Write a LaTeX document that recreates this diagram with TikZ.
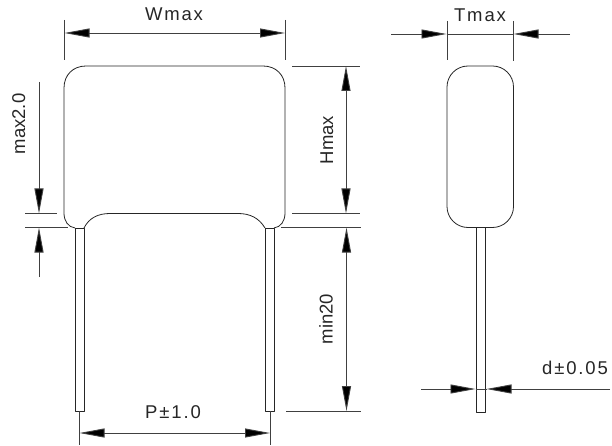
\documentclass[tikz,border=0pt]{standalone}
\usepackage{fontspec}
\setmainfont{Liberation Sans}
\newfontfamily\widesans[LetterSpace=10]{Liberation Sans}
\usetikzlibrary{arrows.meta}
\tikzset{
 x=1pt,y=-1pt,
 outline/.style={draw=black!85,line width=0.8pt,line join=round},
 extline/.style={draw=black!75,line width=0.8pt},
 dimline/.style={draw=black!75,line width=0.9pt},
 tipend/.style={-{Triangle[length=25pt,width=9pt,fill=black]}},
 dimlabel/.style={font=\widesans\fontsize{18.5pt}{20pt}\selectfont,text=black!85,inner sep=0pt},
 sidelabel/.style={font=\fontsize{18.5pt}{20pt}\selectfont,text=black!85,inner sep=0pt,rotate=90,anchor=base},
}
\begin{document}
\begin{tikzpicture}
\useasboundingbox (0,0) rectangle (612,446);
% front body
\draw[outline] (84,228) .. controls (89,218) and (98,213.5) .. (110,213.5) -- (238,213.5)
  .. controls (250,213.5) and (259,218) .. (265,228);
\draw[outline] (274,228) .. controls (281,227) and (285,221) .. (285,213) -- (285,88)
  .. controls (285,75) and (276,66) .. (263,66) -- (86,66)
  .. controls (73,66) and (64,75) .. (64,88) -- (64,213)
  .. controls (64,221) and (68,227) .. (75,228);
\draw[outline] (75,228) rectangle (84,411);
\draw[outline] (265,228) rectangle (274,411);
% side body
\draw[outline,rounded corners=21pt] (447,66) rectangle (513.5,227.5);
\draw[outline] (476.5,227.5) rectangle (485.5,412);
% W
\coordinate (wl0) at (64,20); \coordinate (wl1) at (64,60);
\coordinate (wr0) at (285,20); \coordinate (wr1) at (285,60);
\coordinate (wa) at (64.5,33); \coordinate (wb) at (285,33);
\draw[extline] (wl0) -- (wl1);
\draw[extline] (wr0) -- (wr1);
\draw[dimline,tipend] (174,33) -- (wa);
\draw[dimline,tipend] (174,33) -- (wb);
\node[dimlabel] (wlabel) at (174,14.5) {Wmax};
% T
\coordinate (tl0) at (447,21); \coordinate (tl1) at (447,60);
\coordinate (tr0) at (513,21); \coordinate (tr1) at (513,61);
\coordinate (tla) at (391,34); \coordinate (tlb) at (446.5,34);
\coordinate (tra) at (570,34); \coordinate (trb) at (513.5,34);
\draw[extline] (tl0) -- (tl1);
\draw[extline] (tr0) -- (tr1);
\draw[dimline,tipend] (tla) -- (tlb);
\draw[dimline,tipend] (tra) -- (trb);
\draw[dimline] (tlb) -- (trb);
\node[dimlabel] (tlabel) at (480,15) {Tmax};
% H
\coordinate (h0) at (292,66); \coordinate (h1) at (360,66);
\coordinate (h2) at (292,213.5); \coordinate (h3) at (360,213.5);
\coordinate (h4) at (281,227.5); \coordinate (h5) at (361,227.5);
\coordinate (h6) at (286,411); \coordinate (h7) at (361,411);
\draw[extline] (h0) -- (h1);
\draw[extline] (h2) -- (h3);
\draw[extline] (h4) -- (h5);
\draw[extline] (h6) -- (h7);
\draw[dimline,tipend] (346,140) -- (346,66);
\draw[dimline,tipend] (346,140) -- (346,213.5);
\draw[dimline,tipend] (346.5,320) -- (346.5,227.5);
\draw[dimline,tipend] (346.5,320) -- (346.5,411);
\node[sidelabel] (hlabel) at (333,140) {Hmax};
\node[sidelabel] (mlabel) at (332.5,319) {min20};
% max2.0
\coordinate (m0) at (25,213.5); \coordinate (m1) at (57,213.5);
\coordinate (m2) at (25,227.5); \coordinate (m3) at (68,227.5);
\draw[extline] (m0) -- (m1);
\draw[extline] (m2) -- (m3);
\draw[dimline,tipend] (39,82) -- (39,213.5);
\draw[dimline,tipend] (39,277) -- (39,227.5);
\node[sidelabel] (maxlabel) at (25,124) {max2.0};
% P
\coordinate (p0) at (79.5,411); \coordinate (p1) at (79.5,445);
\coordinate (p2) at (270,411); \coordinate (p3) at (270,445);
\draw[extline] (p0) -- (p1);
\draw[extline] (p2) -- (p3);
\draw[dimline,tipend] (175,433) -- (79.5,433);
\draw[dimline,tipend] (175,433) -- (270,433);
\node[dimlabel] (plabel) at (173,412.5) {P±1.0};
% d
\draw[dimline,tipend] (421,389) -- (475.5,389);
\draw[dimline,tipend] (610,389) -- (486.5,389);
\draw[dimline] (475.5,389) -- (486.5,389);
\node[dimlabel] (dlabel) at (575,368) {d±0.05};
\end{tikzpicture}
\end{document}
